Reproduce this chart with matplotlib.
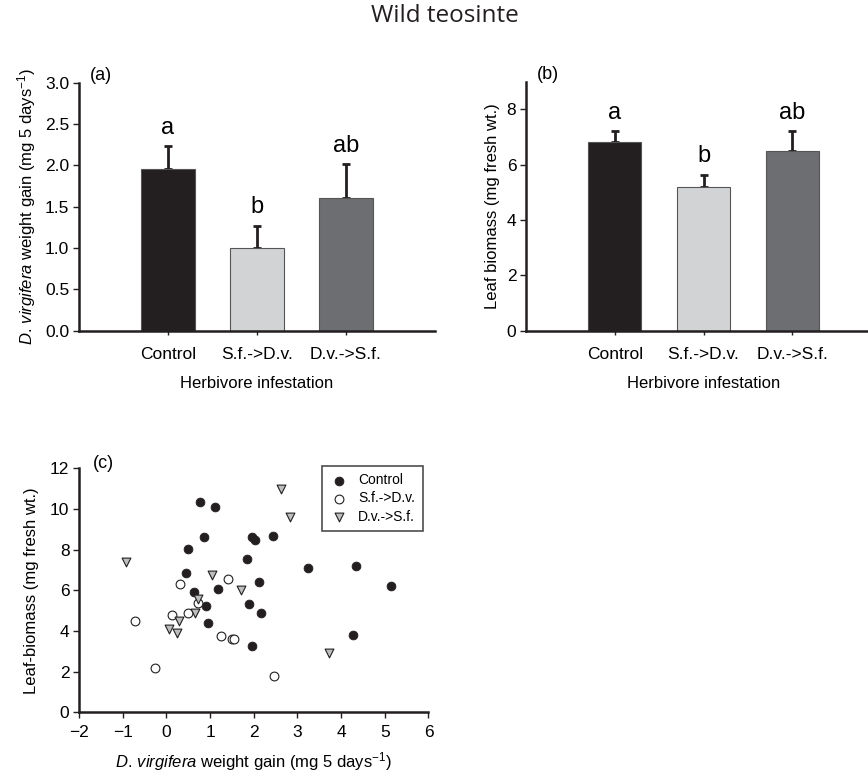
"""Wild teosinte: larval weight gain, leaf biomass and their relation."""
import matplotlib

matplotlib.use("Agg")
import matplotlib.pyplot as plt
import numpy as np

plt.rcParams["font.family"] = ["Liberation Sans", "DejaVu Sans"]
plt.rcParams["mathtext.fontset"] = "custom"
plt.rcParams["mathtext.rm"] = "Liberation Sans"
plt.rcParams["mathtext.it"] = "Liberation Sans:italic"

# Data
TREATMENTS = ["Control", "S.f.->D.v.", "D.v.->S.f."]
BAR_COLORS = ["#231f20", "#d1d3d4", "#6d6e71"]
LETTERS = ["a", "b", "ab"]

GAIN_MEAN = [1.95, 1.00, 1.61]
GAIN_SE = [0.28, 0.27, 0.40]

BIOMASS_MEAN = [6.82, 5.20, 6.49]
BIOMASS_SE = [0.39, 0.43, 0.72]

CONTROL_X = [0.76, 1.11, 0.85, 0.50, 1.96, 2.03, 2.44, 1.85, 3.24, 4.34, 0.44,
             2.12, 5.15, 0.63, 1.19, 0.91, 1.88, 2.16, 0.95, 1.95, 4.27]
CONTROL_Y = [10.36, 10.12, 8.61, 8.03, 8.61, 8.48, 8.68, 7.53, 7.10, 7.22, 6.86,
             6.43, 6.20, 5.94, 6.07, 5.23, 5.35, 4.87, 4.38, 3.28, 3.79]

SFDV_X = [-0.73, -0.27, 0.32, 1.41, 0.12, 0.50, 0.73, 1.25, 1.51, 1.55, 2.47]
SFDV_Y = [4.49, 2.20, 6.33, 6.56, 4.77, 4.87, 5.38, 3.77, 3.61, 3.61, 1.79]

DVSF_X = [-0.93, 2.63, 2.84, 1.04, 1.70, 0.73, 0.66, 0.29, 0.06, 0.23, 3.72]
DVSF_Y = [7.41, 10.99, 9.62, 6.74, 6.04, 5.58, 4.89, 4.48, 4.12, 3.89, 2.91]

GAIN_LABEL = r"$\it{D.\,virgifera}$ weight gain (mg 5 days$^{-1}$)"

TICK_SIZE = 12.5
LABEL_SIZE = 12


def style_axes(ax):
    for side in ("top", "right"):
        ax.spines[side].set_visible(False)
    for side in ("left", "bottom"):
        ax.spines[side].set_linewidth(1.8)
        ax.spines[side].set_color("#231f20")
    ax.tick_params(direction="out", length=4, width=1.0, labelsize=TICK_SIZE,
                   color="#231f20", pad=3)


def bar_panel(ax, means, ses, ylim, yticks, ylabel, tag):
    pos = np.arange(1, len(TREATMENTS) + 1)
    ax.bar(pos, means, width=0.6, color=BAR_COLORS, edgecolor="#555555",
           linewidth=0.8, zorder=2)
    ax.errorbar(pos, means, yerr=[np.zeros(len(means)), ses], fmt="none",
                ecolor="#231f20", elinewidth=2.0, capsize=3, capthick=2.0,
                zorder=1)
    for p, m, s, letter in zip(pos, means, ses, LETTERS):
        ax.annotate(letter, (p, m + s), xytext=(0, 9), textcoords="offset points",
                    ha="center", va="baseline", fontsize=17)
    ax.set_xlim(0, 4)
    ax.set_ylim(*ylim)
    ax.set_yticks(yticks)
    ax.set_xticks(pos)
    ax.set_xticklabels(TREATMENTS)
    style_axes(ax)
    ax.tick_params(axis="x", length=3, pad=9)
    ax.set_xlabel("Herbivore infestation", fontsize=LABEL_SIZE, labelpad=10)
    ax.set_ylabel(ylabel, fontsize=LABEL_SIZE, labelpad=5)
    ax.text(0.03, 1.03, tag, transform=ax.transAxes, fontsize=13, va="center")


def main():
    fig = plt.figure(figsize=(8.68, 7.78), dpi=100)
    fig.text(0.513, 0.98, "Wild teosinte", ha="center", va="center",
             fontsize=17.5, family=["Open Sans", "DejaVu Sans"], color="#231f20")

    ax_a = fig.add_axes([0.091, 0.575, 0.410, 0.3188])
    bar_panel(ax_a, GAIN_MEAN, GAIN_SE, (0, 3.0),
              [0, 0.5, 1.0, 1.5, 2.0, 2.5, 3.0], GAIN_LABEL, "(a)")
    ax_a.yaxis.set_major_formatter(matplotlib.ticker.FormatStrFormatter("%.1f"))

    ax_b = fig.add_axes([0.606, 0.575, 0.409, 0.320])
    bar_panel(ax_b, BIOMASS_MEAN, BIOMASS_SE, (0, 9), [0, 2, 4, 6, 8],
              "Leaf biomass (mg fresh wt.)", "(b)")

    ax_c = fig.add_axes([0.0912, 0.0843, 0.4024, 0.3138])
    ax_c.scatter(CONTROL_X, CONTROL_Y, s=40, c="#231f20", edgecolors="#231f20",
                 linewidths=0.6, label="Control", zorder=3)
    ax_c.scatter(SFDV_X, SFDV_Y, s=40, c="white", edgecolors="#231f20",
                 linewidths=0.8, label="S.f.->D.v.", zorder=3)
    ax_c.scatter(DVSF_X, DVSF_Y, s=40, marker="v", c="#bcbec0",
                 edgecolors="#231f20", linewidths=0.8, label="D.v.->S.f.",
                 zorder=3)
    ax_c.set_xlim(-2, 6)
    ax_c.set_ylim(0, 12)
    ax_c.set_xticks(range(-2, 7))
    ax_c.set_yticks(range(0, 13, 2))
    ax_c.set_xticklabels([str(v).replace("-", "\u2212") for v in range(-2, 7)])
    style_axes(ax_c)
    ax_c.tick_params(axis="x", pad=5)
    ax_c.set_xlabel(GAIN_LABEL, fontsize=LABEL_SIZE, labelpad=7)
    ax_c.set_ylabel("Leaf-biomass (mg fresh wt.)", fontsize=LABEL_SIZE, labelpad=8)
    ax_c.text(0.04, 1.02, "(c)", transform=ax_c.transAxes, fontsize=13,
              va="center")
    leg = ax_c.legend(loc="upper left", bbox_to_anchor=(0.694, 1.011),
                      borderaxespad=0, fontsize=10, frameon=True, fancybox=False,
                      handletextpad=0.7, labelspacing=0.3, borderpad=0.55,
                      handlelength=1.4, scatterpoints=1)
    leg.get_frame().set_edgecolor("#231f20")
    leg.get_frame().set_linewidth(1.2)

    fig.savefig("out.png", dpi=100)
    plt.close(fig)


if __name__ == "__main__":
    main()
